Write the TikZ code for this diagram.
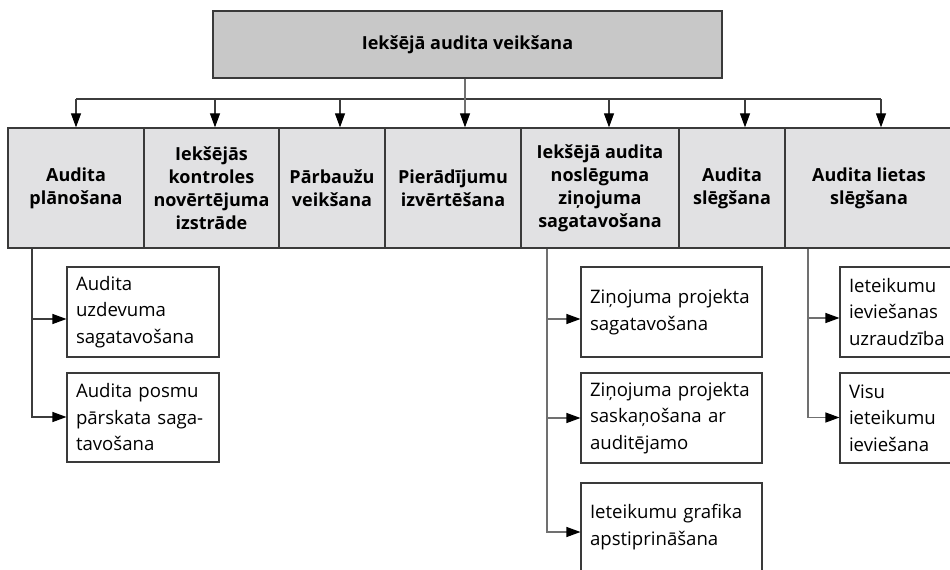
\documentclass[tikz,border=0pt]{standalone}
\usepackage{fontspec}
\setmainfont{Open Sans}
\usetikzlibrary{arrows.meta}
\definecolor{topfill}{HTML}{C8C8C8}
\definecolor{rowfill}{HTML}{E1E1E3}
\definecolor{edgec}{HTML}{3A3A3A}
\definecolor{connc}{HTML}{3C3C3C}
\definecolor{connlight}{HTML}{707070}
\begin{document}
\begin{tikzpicture}[x=1pt,y=-1pt,
  topbox/.style={draw=edgec, line width=1.3pt, fill=topfill, minimum width=509pt, minimum height=67pt, inner sep=0pt, font=\bfseries\fontsize{18}{23}\selectfont},
  rowbox/.style={draw=edgec, line width=1.3pt, fill=rowfill, minimum height=120pt, inner sep=0pt, align=center, font=\bfseries\fontsize{18}{23}\selectfont},
  subbox/.style={draw=edgec, line width=1.1pt, fill=white, minimum height=90pt, inner xsep=9pt, inner ysep=0pt, align=left, font=\fontsize{18.6}{26.5}\selectfont},
  tip/.style={-{Triangle[length=14pt,width=10pt,color=black]}},
  conn/.style={draw=connc, line width=1.1pt},
  arr/.style={conn, tip},
  larr/.style={draw=connlight, line width=1.1pt, tip},
]
\clip (0,0) rectangle (950,570);
\useasboundingbox (0,0) rectangle (950,570);

\node[topbox] (top) at (467.5,44.5) {Iekšējā audita veikšana};

\node[rowbox, minimum width=136pt] (b1) at (76,188) {Audita\\plānošana};
\node[rowbox, minimum width=135pt] (b2) at (211.5,188) {Iekšējās\\kontroles\\novērtējuma\\izstrāde};
\node[rowbox, minimum width=106pt] (b3) at (332,188) {Pārbaužu\\veikšana};
\node[rowbox, minimum width=136pt] (b4) at (453,188) {Pierādījumu\\izvērtēšana};
\node[rowbox, minimum width=158pt] (b5) at (600,188) {Iekšējā audita\\noslēguma\\ziņojuma\\sagatavošana};
\node[rowbox, minimum width=106pt] (b6) at (732,188) {Audita\\slēgšana};
\node[rowbox, minimum width=168pt] (b7) at (869,188) {Audita lietas\\slēgšana};

\node[subbox, text width=134pt] (s1) at (143,312) {Audita\\uzdevuma\\sagatavošana};
\node[subbox, text width=134pt, minimum height=89pt] (s2) at (143,417.5) {Audita posmu\\pārskata saga-\\tavošana};

\node[subbox, text width=163pt] (m1) at (671.5,312) {Ziņojuma projekta\\sagatavošana};
\node[subbox, text width=163pt] (m2) at (671.5,418) {Ziņojuma projekta\\saskaņošana ar\\auditējamo};
\node[subbox, text width=163pt, minimum height=88pt] (m3) at (671.5,527) {Ieteikumu grafika\\apstiprināšana};

\node[subbox, text width=112pt] (r1) at (905,312) {Ieteikumu\\ieviešanas\\uzraudzība};
\node[subbox, text width=112pt] (r2) at (905,418) {Visu\\ieteikumu\\ieviešana};

% bus
\coordinate (busL) at (76,99);
\draw[conn] (b1.north |- busL) -- ([xshift=12pt]b7.north |- busL);
\draw[arr] (b1.north |- busL) -- (b1.north);
\draw[arr] ([xshift=3.5pt]b2.north |- busL) -- ([xshift=3.5pt]b2.north);
\draw[arr] ([xshift=8pt]b3.north |- busL) -- ([xshift=8pt]b3.north);
\draw[arr] ([xshift=9pt]b5.north |- busL) -- ([xshift=9pt]b5.north);
\draw[arr] ([xshift=13pt]b6.north |- busL) -- ([xshift=13pt]b6.north);
\draw[arr] ([xshift=12pt]b7.north |- busL) -- ([xshift=12pt]b7.north);
\draw[larr] ([xshift=-2.5pt]top.south) -- ([xshift=12pt]b4.north);

% left trunk
\coordinate (t1) at ([xshift=-44pt]b1.south);
\draw[arr] (t1) |- ([yshift=0.5pt]s2.west);
\draw[arr] ([yshift=-7pt]s1.west -| t1) -- ([yshift=-7pt]s1.west);

% middle trunk
\coordinate (t2) at ([xshift=-53pt]b5.south);
\draw[larr] (t2) |- ([yshift=-5pt]m3.west);
\draw[larr] ([yshift=-7pt]m1.west -| t2) -- ([yshift=-7pt]m1.west);
\draw[larr] (m2.west -| t2) -- (m2.west);

% right trunk
\coordinate (t3) at ([xshift=-61pt]b7.south);
\draw[larr] (t3) |- ([yshift=0.5pt]r2.west);
\draw[larr] ([yshift=-6pt]r1.west -| t3) -- ([yshift=-6pt]r1.west);
\end{tikzpicture}
\end{document}
